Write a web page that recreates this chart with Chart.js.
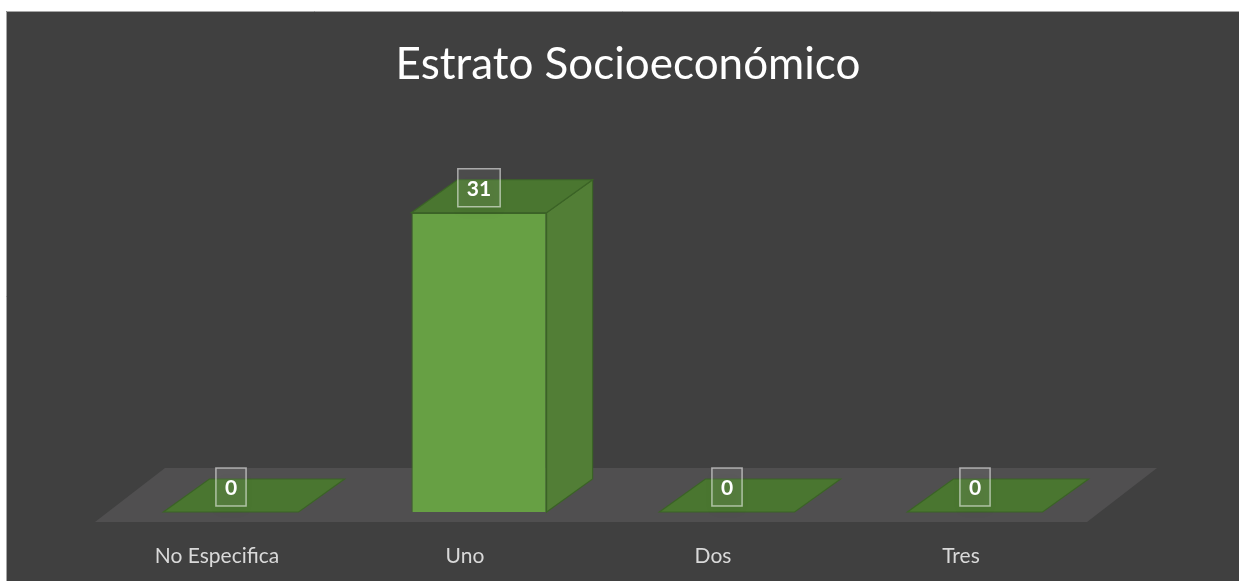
<!DOCTYPE html>
<html>
<head>
<meta charset="utf-8">
<script src="https://cdn.jsdelivr.net/npm/chart.js@4"></script>
<style>
  html, body { margin: 0; padding: 0; background: #ffffff; }
  #wrap { width: 1239px; height: 581px; }
</style>
</head>
<body>
<div id="wrap"><canvas id="estratoChart" width="1239" height="581"></canvas></div>
<script>
const categories = ["No Especifica", "Uno", "Dos", "Tres"];
const counts = [0, 31, 0, 0];
const chartTitle = "Estrato Socioeconómico";

// 3D look: extrusion offsets for bars and floor
const depthX = 46, depthY = -33;

const bar3d = {
  id: "bar3d",
  beforeDraw(chart) {
    const ctx = chart.ctx;
    ctx.save();
    ctx.fillStyle = "#ffffff";
    ctx.fillRect(0, 0, chart.width, chart.height);
    ctx.fillStyle = "#404040";
    ctx.fillRect(6, 11, chart.width - 6, chart.height - 11);
    ctx.strokeStyle = "#a6a6a6";
    ctx.lineWidth = 1;
    ctx.beginPath();
    ctx.moveTo(6.5, chart.height);
    ctx.lineTo(6.5, 11.5);
    ctx.lineTo(chart.width, 11.5);
    ctx.stroke();
    // title, centred on the chart box
    ctx.fillStyle = "#ffffff";
    ctx.font = "44px Lato";
    ctx.textAlign = "center";
    ctx.textBaseline = "middle";
    ctx.fillText(chartTitle, 628, 65);
    ctx.restore();
  },
  beforeDatasetsDraw(chart) {
    const ctx = chart.ctx;
    const area = chart.chartArea;
    const base = chart.scales.y.getPixelForValue(0);
    ctx.save();
    // floor
    ctx.fillStyle = "#504f50";
    ctx.beginPath();
    ctx.moveTo(area.left - 12, base + 10);
    ctx.lineTo(area.right - 12, base + 10);
    ctx.lineTo(area.right + 58, base - 44);
    ctx.lineTo(area.left + 58, base - 44);
    ctx.closePath();
    ctx.fill();

    const meta = chart.getDatasetMeta(0);
    meta.data.forEach((bar) => {
      const l = bar.x - bar.width / 2, r = bar.x + bar.width / 2;
      const t = bar.y, b = bar.base;
      ctx.lineWidth = 1.2;
      ctx.strokeStyle = "#3b6326";
      // side face
      if (b - t > 0.5) {
        ctx.fillStyle = "#527e36";
        ctx.beginPath();
        ctx.moveTo(r, t);
        ctx.lineTo(r + depthX, t + depthY);
        ctx.lineTo(r + depthX, b + depthY);
        ctx.lineTo(r, b);
        ctx.closePath();
        ctx.fill();
        ctx.stroke();
      }
      // top face
      ctx.fillStyle = "#4a7630";
      ctx.beginPath();
      ctx.moveTo(l, t);
      ctx.lineTo(r, t);
      ctx.lineTo(r + depthX, t + depthY);
      ctx.lineTo(l + depthX, t + depthY);
      ctx.closePath();
      ctx.fill();
      ctx.stroke();
    });
    ctx.restore();
  },
  afterDatasetsDraw(chart) {
    const ctx = chart.ctx;
    const meta = chart.getDatasetMeta(0);
    ctx.save();
    ctx.font = "bold 21px Lato";
    ctx.textAlign = "center";
    ctx.textBaseline = "middle";
    meta.data.forEach((bar, i) => {
      const txt = String(counts[i]);
      const w = ctx.measureText(txt).width + 18;
      const h = 38;
      const cx = bar.x, cy = bar.y - 25;
      ctx.save();
      ctx.shadowColor = "rgba(0,0,0,0.45)";
      ctx.shadowBlur = 10;
      ctx.shadowOffsetY = 6;
      ctx.fillStyle = "rgba(255,255,255,0.07)";
      ctx.fillRect(cx - w / 2, cy - h / 2, w, h);
      ctx.restore();
      ctx.strokeStyle = "rgba(255,255,255,0.55)";
      ctx.lineWidth = 1.5;
      ctx.strokeRect(cx - w / 2, cy - h / 2, w, h);
      ctx.fillStyle = "#ffffff";
      ctx.fillText(txt, cx, cy + 1);
    });
    ctx.restore();
  },
};

const ctx = document.getElementById("estratoChart").getContext("2d");

const estratoChart = new Chart(ctx, {
  type: "bar",
  data: {
    labels: categories,
    datasets: [
      {
        label: chartTitle,
        data: counts,
        backgroundColor: "#67a044",
        borderColor: "#3b6326",
        borderWidth: 1.2,
        categoryPercentage: 1,
        barPercentage: 0.545,
      },
    ],
  },
  options: {
    responsive: false,
    animation: false,
    layout: { padding: { left: 107, right: 140, top: 150, bottom: 14 } },
    scales: {
      x: {
        grid: { display: false, drawTicks: false },
        border: { display: false },
        ticks: {
          color: "#d9d9d9",
          font: { family: "Lato", size: 21 },
          padding: 32,
          labelOffset: -14,
        },
        afterFit(scale) {
          scale.height = 55;
        },
      },
      y: {
        display: false,
        min: 0,
        max: 37.5,
      },
    },
    plugins: {
      legend: { display: false },
      tooltip: { enabled: false },
      title: { display: false },
    },
  },
  plugins: [bar3d],
});
</script>
</body>
</html>
